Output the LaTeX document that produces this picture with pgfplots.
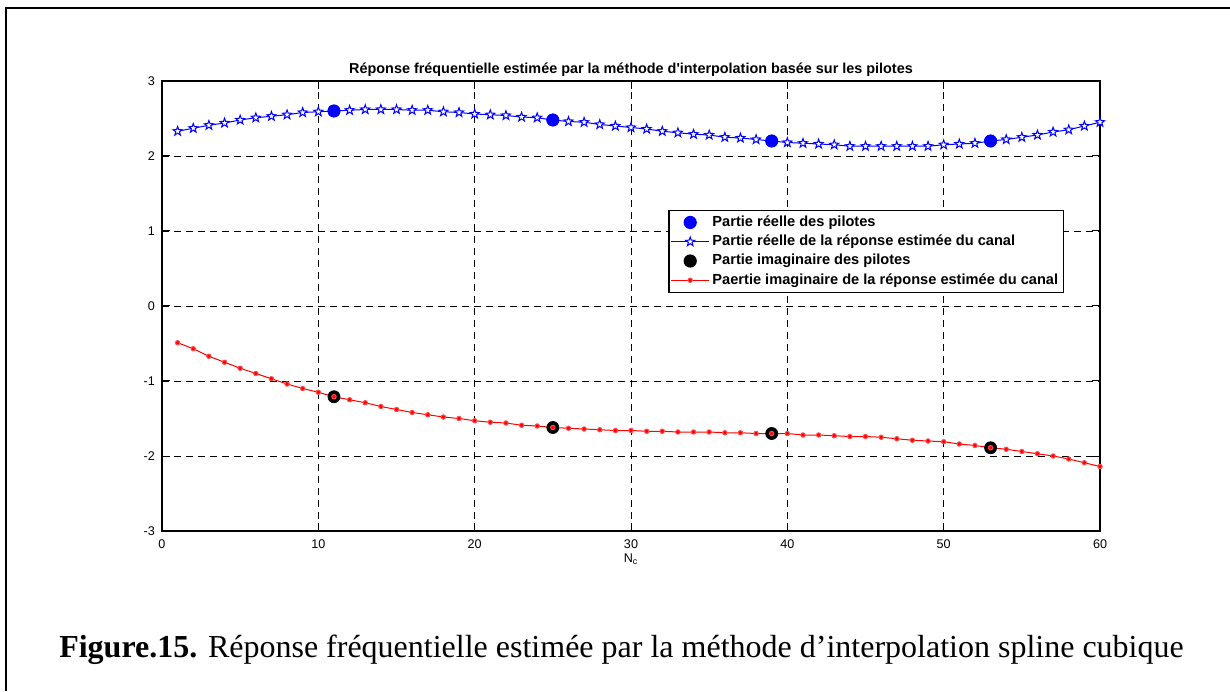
\documentclass[border=0pt]{standalone}
\usepackage{fontspec}
\usepackage{pgfplots}
\pgfplotsset{compat=1.18}
\usetikzlibrary{plotmarks}
\newfontfamily\arialf{Liberation Sans}
\newfontfamily\timesf{Liberation Serif}
\pgfdeclareplotmark{pentagram}{%
  \pgfpathmoveto{\pgfpointpolar{90}{\pgfplotmarksize}}%
  \pgfpathlineto{\pgfpointpolar{126}{0.4\pgfplotmarksize}}%
  \pgfpathlineto{\pgfpointpolar{162}{\pgfplotmarksize}}%
  \pgfpathlineto{\pgfpointpolar{198}{0.4\pgfplotmarksize}}%
  \pgfpathlineto{\pgfpointpolar{234}{\pgfplotmarksize}}%
  \pgfpathlineto{\pgfpointpolar{270}{0.4\pgfplotmarksize}}%
  \pgfpathlineto{\pgfpointpolar{306}{\pgfplotmarksize}}%
  \pgfpathlineto{\pgfpointpolar{342}{0.4\pgfplotmarksize}}%
  \pgfpathlineto{\pgfpointpolar{18}{\pgfplotmarksize}}%
  \pgfpathlineto{\pgfpointpolar{54}{0.4\pgfplotmarksize}}%
  \pgfpathclose
  \pgfusepathqfillstroke}
\pgfplotstableread{
x y
11 2.60
25 2.48
39 2.20
53 2.20
}\realpil
\begin{document}
\begin{tikzpicture}
\useasboundingbox (0,0) rectangle (615pt,345.5pt);
\draw[line width=1pt] (3pt,0) -- (3pt,341.5pt) -- (615pt,341.5pt);
\begin{axis}[
  at={(81pt,80pt)}, anchor=south west,
  width=469pt, height=225pt, scale only axis,
  xmin=0, xmax=60, ymin=-3, ymax=3,
  xtick={0,10,...,60}, ytick={-3,-2,...,3},
  tick align=inside, major tick length=4pt,
  axis line style={line width=0.75pt},
  tick style={black, line width=0.5pt},
  grid=major,
  major grid style={black, dash pattern=on 3.5pt off 2.5pt, line width=0.45pt},
  /pgf/number format/assume math mode=true,
  tick label style={font=\arialf\fontsize{6.3}{7}\selectfont},
  xticklabel style={yshift=-1pt},
  legend style={at={(0.5398,0.7133)}, anchor=north west, draw=black, line width=0.6pt,
    font=\arialf\bfseries\fontsize{7.3}{8}\selectfont, inner sep=1pt, row sep=-0.2pt,
    nodes={inner sep=1.5pt}},
  legend cell align=left,
  legend image code/.code={
    \draw[mark repeat=2,mark phase=2,#1] plot coordinates {(0cm,0cm) (0.33cm,0cm) (0.66cm,0cm)};
  },
]
\addplot[only marks, mark=*, mark size=3pt, color=blue] table {\realpil};
\addlegendentry{Partie réelle des pilotes}
\addplot[blue, line width=0.5pt, mark=pentagram, mark size=2.4pt, mark options={draw=blue, fill=white, line width=0.5pt}] coordinates {
(1,2.33) (2,2.37) (3,2.41) (4,2.44) (5,2.48) (6,2.51) (7,2.53) (8,2.55) (9,2.58) (10,2.59)
(11,2.60) (12,2.61) (13,2.62) (14,2.62) (15,2.62) (16,2.61) (17,2.61) (18,2.59) (19,2.58) (20,2.56)
(21,2.55) (22,2.54) (23,2.52) (24,2.51) (25,2.48) (26,2.46) (27,2.45) (28,2.42) (29,2.40) (30,2.38)
(31,2.36) (32,2.33) (33,2.31) (34,2.29) (35,2.28) (36,2.25) (37,2.24) (38,2.22) (39,2.20) (40,2.18)
(41,2.17) (42,2.16) (43,2.15) (44,2.13) (45,2.13) (46,2.13) (47,2.13) (48,2.13) (49,2.13) (50,2.15)
(51,2.16) (52,2.17) (53,2.20) (54,2.22) (55,2.25) (56,2.28) (57,2.32) (58,2.35) (59,2.40) (60,2.45)};
\addlegendentry{Partie réelle de la réponse estimée du canal}
\addplot[only marks, mark=*, mark size=3pt, color=blue, forget plot] table {\realpil};
\addplot[only marks, mark=*, mark size=3pt, color=black] coordinates {
(11,-1.21) (25,-1.62) (39,-1.70) (53,-1.89)};
\addlegendentry{Partie imaginaire des pilotes}
\addplot[red, line width=0.5pt, mark=*, mark size=1.1pt, mark options={fill=red, draw=red!70}] coordinates {
(1,-0.49) (2,-0.57) (3,-0.67) (4,-0.75) (5,-0.83) (6,-0.90) (7,-0.97) (8,-1.04) (9,-1.10) (10,-1.15)
(11,-1.21) (12,-1.25) (13,-1.29) (14,-1.34) (15,-1.38) (16,-1.42) (17,-1.45) (18,-1.48) (19,-1.50) (20,-1.53)
(21,-1.55) (22,-1.56) (23,-1.59) (24,-1.60) (25,-1.62) (26,-1.63) (27,-1.64) (28,-1.65) (29,-1.66) (30,-1.66)
(31,-1.67) (32,-1.67) (33,-1.68) (34,-1.68) (35,-1.68) (36,-1.69) (37,-1.69) (38,-1.70) (39,-1.70) (40,-1.70)
(41,-1.72) (42,-1.72) (43,-1.73) (44,-1.74) (45,-1.74) (46,-1.75) (47,-1.77) (48,-1.79) (49,-1.80) (50,-1.81)
(51,-1.84) (52,-1.86) (53,-1.89) (54,-1.91) (55,-1.94) (56,-1.97) (57,-2.00) (58,-2.04) (59,-2.09) (60,-2.14)};
\addlegendentry{Paertie imaginaire de la réponse estimée du canal}
\end{axis}
\node[anchor=base, inner sep=0pt, font=\arialf\bfseries\fontsize{7.2}{8}\selectfont] at (315.5pt,308.8pt) {Réponse fréquentielle estimée par la méthode d'interpolation basée sur les pilotes};
\node[anchor=base, inner sep=0pt, font=\arialf\fontsize{6.3}{7}\selectfont] at (315.5pt,64.5pt) {N\textsubscript{c}};
\node[anchor=base, inner sep=0pt] at (310.75pt,17pt) {\timesf\fontsize{16}{18}\selectfont\textbf{Figure.15.} Réponse fréquentielle estimée par la méthode d’interpolation spline cubique};
\end{tikzpicture}
\end{document}
